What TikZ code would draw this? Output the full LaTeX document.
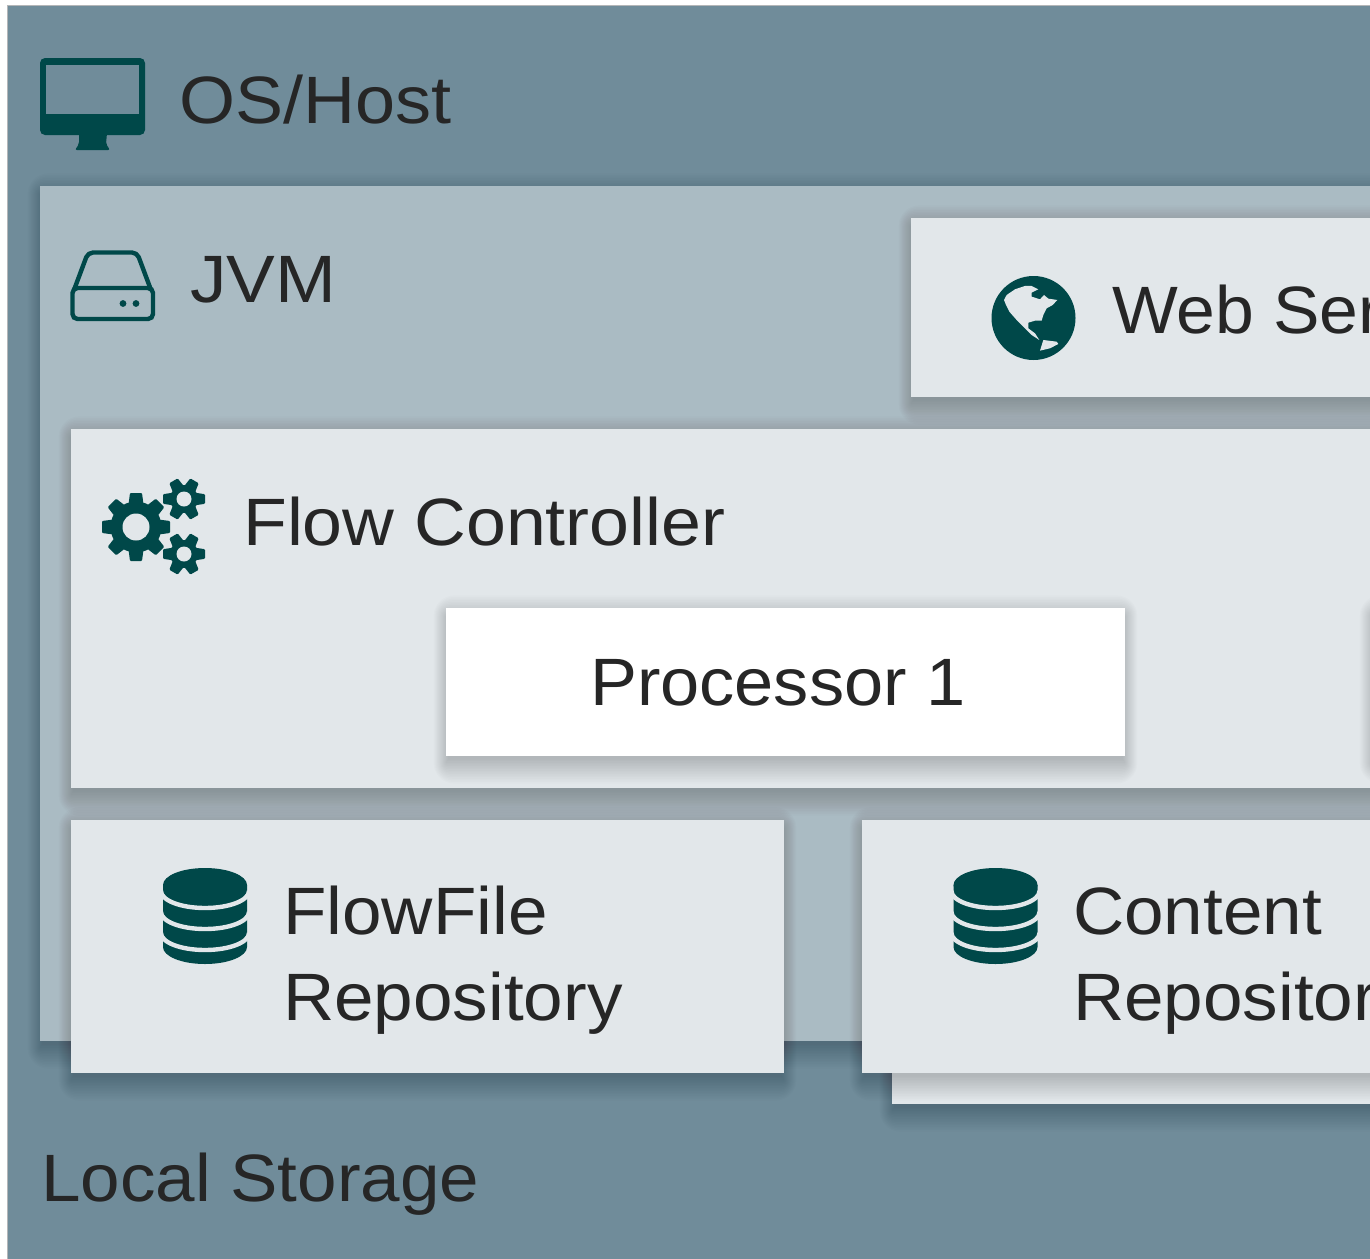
\documentclass[tikz,border=0pt]{standalone}
\usepackage{fontspec}
\setmainfont{Liberation Sans}
\definecolor{outerbg}{HTML}{708C9A}
\definecolor{jvmbg}{HTML}{AABBC3}
\definecolor{lightbg}{HTML}{E2E7EA}
\definecolor{teal}{HTML}{004849}
\definecolor{inktext}{HTML}{262626}
\definecolor{edgegray}{HTML}{B4B6B8}
\tikzset{
  lbl/.style={anchor=base west,inner sep=0pt,text=inktext},
  iconfill/.style={fill=teal,draw=none},
}
\newcommand{\stretched}[2]{{\fontspec[FakeStretch=#1]{Liberation Sans}\fontsize{67}{67}\selectfont #2}}
% soft drop shadow under a box: corners given in pixels
\newcommand{\softshadow}[4]{%
  \foreach \k in {1,...,16}{%
    \pgfmathsetmacro{\e}{\k*1.6-5}%
    \pgfmathsetmacro{\ex}{\e*0.6}%
    \pgfmathsetmacro{\rc}{max(\e,0.1)}%
    \fill[black,opacity=0.0115,rounded corners=\rc pt]
      (#1-\ex,#2-\e+8) rectangle (#3+\ex,#4+\e+7);
  }}
\newcommand{\panel}[6]{% name, color, x1,y1,x2,y2
  \softshadow{#3}{#4}{#5}{#6}
  \path[fill=#2] (#3,#4) rectangle (#5,#6);
  \coordinate (#1) at (#3,#4);
}
% database icon: centre x
\newcommand{\dbicon}[1]{%
  \begin{scope}[shift={(#1,0)}]
    \path[iconfill] (-42,885) -- (-42,947) arc[start angle=180,end angle=0,x radius=42,y radius=17]
       -- (42,885) -- cycle;
    \foreach \yy in {891,912,933}{
      \draw[lightbg,line width=4.4pt] (-44,\yy) arc[start angle=180,end angle=0,x radius=44,y radius=17];
    }
    \path[iconfill] (0,885) ellipse[x radius=42,y radius=17];
  \end{scope}}
% gear icon: x, y, outer radius, tooth half-width, hub radius, hole radius, teeth
\newcommand{\gearicon}[7]{%
  \begin{scope}[shift={(#1,#2)}]
    \fill[teal] (0,0) circle[radius=#5];
    \pgfmathsetmacro{\stepang}{360/#7}
    \foreach \n in {1,...,#7}{
      \pgfmathsetmacro{\aa}{(\n-1)*\stepang}
      \begin{scope}[rotate=\aa]
        \fill[teal,rounded corners=1pt] (#5-3,-#4-1.5) -- (#3,-#4) -- (#3,#4) -- (#5-3,#4+1.5) -- cycle;
      \end{scope}
    }
    \fill[lightbg] (0,0) circle[radius=#6];
  \end{scope}}
\begin{document}
\begin{tikzpicture}[x=1pt,y=-1pt]
\useasboundingbox (0,0) rectangle (1370,1258);
\clip (0,0) rectangle (1370,1258);
\fill[white] (0,0) rectangle (1370,1258);
\fill[outerbg] (8,6) rectangle (1375,1263);
\draw[edgegray,line width=1pt] (7.5,1263) -- (7.5,5.5) -- (1375,5.5);

\panel{jvm}{jvmbg}{40}{186}{1400}{1041}
\panel{websrv}{lightbg}{911}{218}{1420}{397}
\panel{flow}{lightbg}{71}{429}{1420}{788}
\panel{proc1}{white}{446}{608}{1125}{756}
\panel{proc2}{white}{1372}{608}{1500}{756}
\panel{ffrepo}{lightbg}{71}{820}{784}{1073}
\panel{crepob}{lightbg}{892}{850}{1420}{1104}
\panel{crepo}{lightbg}{862}{820}{1420}{1073}

% monitor icon
\path[iconfill,rounded corners=5pt] (40,58) rectangle (145,135);
\fill[outerbg] (46,65) rectangle (139,114);
\path[iconfill,rounded corners=2pt] (79,133) -- (107,133) -- (106,144) -- (110,150) -- (75,150) -- (79,144) -- cycle;

% disk icon
\draw[teal,line width=4.4pt,rounded corners=5pt] (72.5,288) rectangle (153,319);
\draw[teal,line width=4.4pt,line join=round,rounded corners=5pt] (74,290) -- (88,252.5) -- (137,252.5) -- (151,290);
\fill[teal] (123,303.5) circle[radius=3.4] (136,303.5) circle[radius=3.4];

% globe icon
\fill[teal] (1033.5,318) circle[radius=42];
\begin{scope}[shift={(900,200)},x=0.3333pt,y=-0.3333pt]
\fill[lightbg] (312,300) -- (320,285) -- (345,268) -- (375,258) -- (395,258) -- (415,268) -- (395,278) -- (395,290) -- (420,298) -- (432,285) -- (445,296) -- (472,300) -- (458,315) -- (440,325) -- (430,345) -- (425,362) -- (405,362) -- (385,368) -- (385,385) -- (405,400) -- (418,420) -- (395,405) -- (375,385) -- (350,360) -- (328,335) -- (318,315) -- cycle;
\fill[lightbg] (420,452) -- (430,420) -- (470,425) -- (475,432) -- (450,445) -- cycle;
\end{scope}

% gears icon
\gearicon{136}{527}{34}{6}{25.5}{13.5}{8}
\gearicon{184}{499}{21}{4.8}{14}{7.5}{6}
\gearicon{184}{554}{21}{4.8}{14}{7.5}{6}

% database icons
\dbicon{205}
\dbicon{995.5}

% labels
\node[lbl] (oslabel) at (179,123) {\stretched{1.075}{OS/Host}};
\node[lbl] (jvmlabel) at (190,302) {\stretched{1.09}{JVM}};
\node[lbl] (weblabel) at (1112,333) {\stretched{1.04}{Web Server}};
\node[lbl] (flowlabel) at (243,545) {\stretched{1.07}{Flow Controller}};
\node[lbl] (proclabel) at (590,705) {\stretched{1.05}{Processor 1}};
\node[lbl] (fflabela) at (283,934) {\stretched{1.06}{FlowFile}};
\node[lbl] (fflabelb) at (283,1020) {\stretched{1.06}{Repository}};
\node[lbl] (clabela) at (1073,934) {\stretched{1.06}{Content}};
\node[lbl] (clabelb) at (1073,1020) {\stretched{1.06}{Repository}};
\node[lbl] (locallabel) at (41,1201) {\stretched{1.06}{Local Storage}};
\end{tikzpicture}
\end{document}
